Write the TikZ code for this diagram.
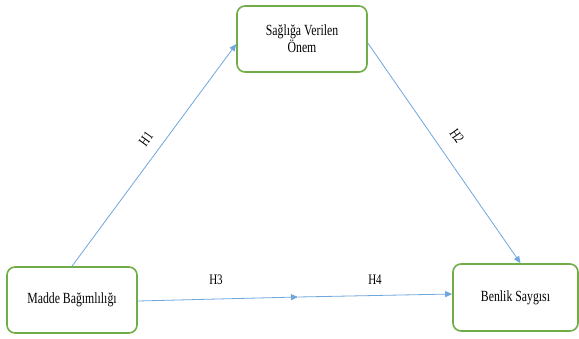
\documentclass[tikz,border=0pt]{standalone}
\usepackage{fontspec}
\setmainfont{Liberation Serif}
\newfontfamily\narrowserif[FakeStretch=0.76]{Liberation Serif}
\usetikzlibrary{arrows.meta}
\definecolor{boxgreen}{HTML}{70AD47}
\definecolor{linkblue}{HTML}{6FA6DC}
\tikzset{
  box/.style={draw=boxgreen, line width=1.6pt, rounded corners=8pt, fill=white,
    minimum width=#1, inner sep=0pt, align=center, font=\narrowserif\fontsize{15.5}{17}\selectfont},
  link/.style={draw=linkblue, line width=0.8pt, -{Triangle[length=7pt,width=6pt]}},
  hlabel/.style={font=\narrowserif\fontsize{14.5}{16}\selectfont, inner sep=0pt}
}
\begin{document}
\begin{tikzpicture}[x=1pt,y=-1pt]
\useasboundingbox (0,0) rectangle (579,338);
\node[box=130pt, minimum height=66pt] (onem) at (302,39) {Sağlığa Verilen\\Önem};
\node[box=130pt, minimum height=66pt] (madde) at (72,300) {Madde Bağımlılığı};
\node[box=125pt, minimum height=67pt] (benlik) at (515.5,297.5) {Benlik Saygısı};
\coordinate (mid) at (298,297);
\draw[link] (madde.north) -- ([yshift=-5pt]onem.west);
\draw[link] ([yshift=-4pt]onem.east) -- ([xshift=5pt]benlik.north);
\draw[link] ([yshift=-1pt]madde.east) -- (mid);
\draw[link] (mid) -- ([yshift=3.5pt]benlik.west);
\node[hlabel, rotate=54] (h1) at (146,139) {H1};
\node[hlabel, rotate=-55] (h2) at (457,136) {H2};
\node[hlabel] (h3) at (216,280) {H3};
\node[hlabel] (h4) at (375,280) {H4};
\end{tikzpicture}
\end{document}
